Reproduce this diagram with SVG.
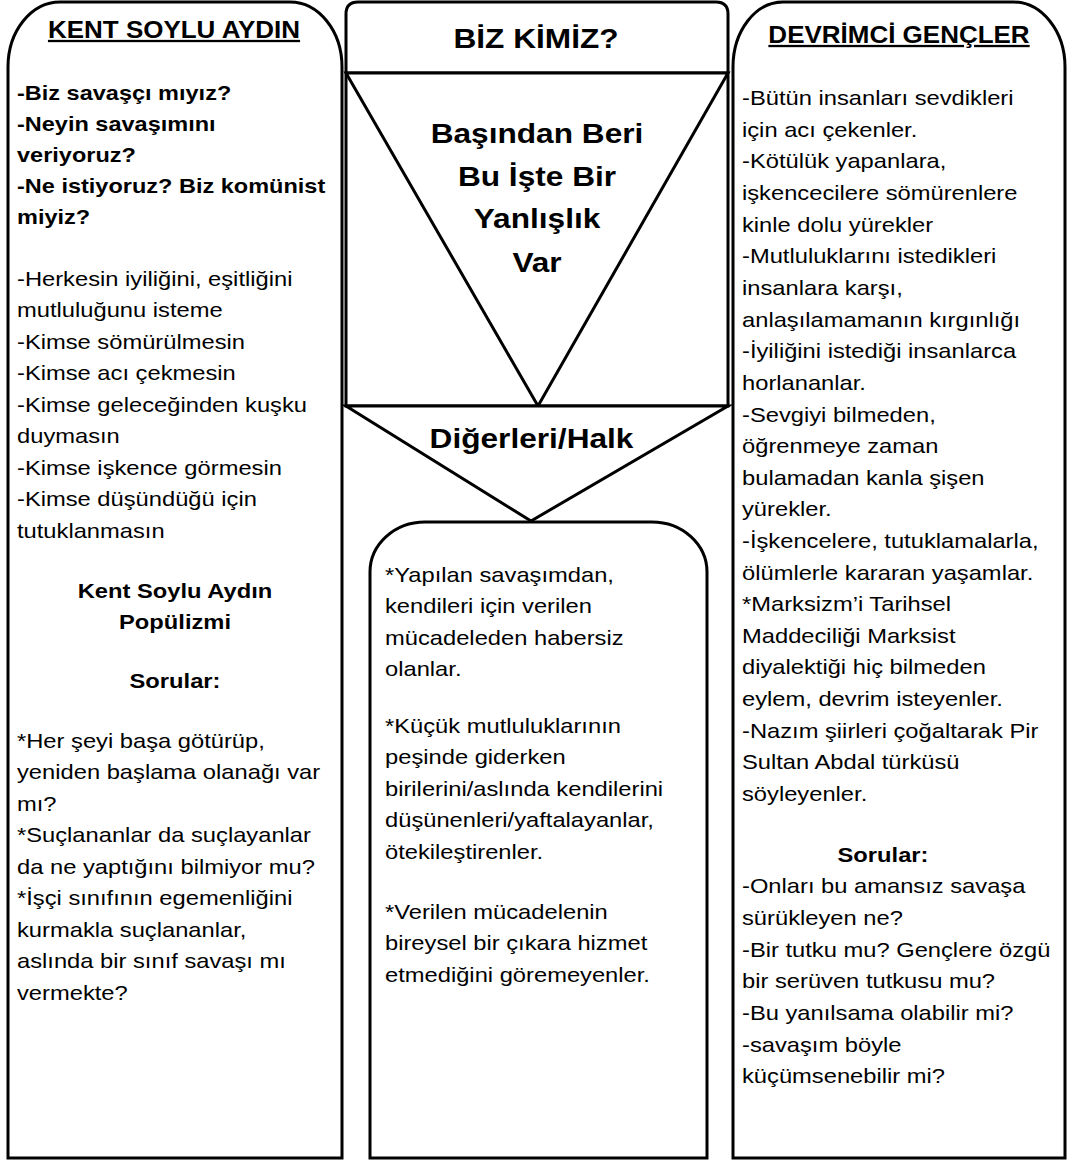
<svg xmlns="http://www.w3.org/2000/svg" width="1070" height="1162" viewBox="0 0 1070 1162">
  <style>
    .box { fill: #fff; stroke: #000; stroke-width: 3; stroke-linejoin: miter; }
    .ln { fill: none; stroke: #000; stroke-width: 3; }
    text { font-family: "Liberation Sans", Arial, "DejaVu Sans", sans-serif; fill: #000; font-size: 21px; }
    .b { font-weight: bold; }
    .h { font-weight: bold; font-size: 23px; text-decoration: underline; }
    .big { font-weight: bold; font-size: 28px; }
    .mid { text-anchor: middle; }
  </style>
  <rect width="1070" height="1162" fill="#fff"/>

  <!-- left column -->
  <g id="kent-soylu-aydin">
    <path class="box" d="M8 1158 L8 67 A52 65 0 0 1 60 2 L290 2 A52 65 0 0 1 342 67 L342 1158 Z"/>
    <g transform="translate(174 0) scale(1.13 1)">
      <text class="h mid" x="0" y="38">KENT SOYLU AYDIN</text>
    </g>
    <g transform="translate(17 0) scale(1.12 1)">
      <text class="b" x="0" y="100">-Biz savaşçı mıyız?</text>
      <text class="b" x="0" y="131">-Neyin savaşımını</text>
      <text class="b" x="0" y="162">veriyoruz?</text>
      <text class="b" x="0" y="193">-Ne istiyoruz? Biz komünist</text>
      <text class="b" x="0" y="224">miyiz?</text>
    </g>
    <g transform="translate(17 0) scale(1.13 1)">
      <text x="0" y="286">-Herkesin iyiliğini, eşitliğini</text>
      <text x="0" y="317.5">mutluluğunu isteme</text>
      <text x="0" y="349">-Kimse sömürülmesin</text>
      <text x="0" y="380.5">-Kimse acı çekmesin</text>
      <text x="0" y="412">-Kimse geleceğinden kuşku</text>
      <text x="0" y="443.5">duymasın</text>
      <text x="0" y="475">-Kimse işkence görmesin</text>
      <text x="0" y="506.5">-Kimse düşündüğü için</text>
      <text x="0" y="538">tutuklanmasın</text>
    </g>
    <g transform="translate(175 0) scale(1.13 1)">
      <text class="b mid" x="0" y="598">Kent Soylu Aydın</text>
      <text class="b mid" x="0" y="629">Popülizmi</text>
      <text class="b mid" x="0" y="688">Sorular:</text>
    </g>
    <g transform="translate(17 0) scale(1.13 1)">
      <text x="0" y="748">*Her şeyi başa götürüp,</text>
      <text x="0" y="779.5">yeniden başlama olanağı var</text>
      <text x="0" y="811">mı?</text>
      <text x="0" y="842.5">*Suçlananlar da suçlayanlar</text>
      <text x="0" y="874">da ne yaptığını bilmiyor mu?</text>
      <text x="0" y="905.5">*İşçi sınıfının egemenliğini</text>
      <text x="0" y="937">kurmakla suçlananlar,</text>
      <text x="0" y="968.5">aslında bir sınıf savaşı mı</text>
      <text x="0" y="1000">vermekte?</text>
    </g>
  </g>

  <!-- centre header with the downward triangle -->
  <g id="biz-kimiz">
    <path class="box" d="M346 406 L346 14 Q346 2 358 2 L716 2 Q728 2 728 14 L728 406 Z"/>
    <path class="ln" d="M346 73 H728"/>
    <g transform="translate(536 0) scale(1.13 1)">
      <text class="big mid" x="0" y="48">BİZ KİMİZ?</text>
    </g>
  </g>

  <g id="yanlislik">
    <path class="box" d="M346 73 L538 406 L728 73 Z"/>
    <g transform="translate(537 0) scale(1.13 1)">
      <text class="big mid" x="0" y="143">Başından Beri</text>
      <text class="big mid" x="0" y="186">Bu İşte Bir</text>
      <text class="big mid" x="0" y="228">Yanlışlık</text>
      <text class="big mid" x="0" y="272">Var</text>
    </g>
  </g>

  <g id="digerleri-halk">
    <path class="box" d="M346 406 L728 406 L531 521 Z"/>
    <g transform="translate(531.5 0) scale(1.13 1)">
      <text class="big mid" x="0" y="448">Diğerleri/Halk</text>
    </g>
  </g>

  <!-- centre lower box -->
  <g id="halk-aciklama">
    <path class="box" d="M370 1158 L370 572 A55 50 0 0 1 425 522 L652 522 A55 50 0 0 1 707 572 L707 1158 Z"/>
    <g transform="translate(385 0) scale(1.13 1)">
      <text x="0" y="582">*Yapılan savaşımdan,</text>
      <text x="0" y="613.5">kendileri için verilen</text>
      <text x="0" y="645">mücadeleden habersiz</text>
      <text x="0" y="676.5">olanlar.</text>
      <text x="0" y="733">*Küçük mutluluklarının</text>
      <text x="0" y="764.5">peşinde giderken</text>
      <text x="0" y="796">birilerini/aslında kendilerini</text>
      <text x="0" y="827.5">düşünenleri/yaftalayanlar,</text>
      <text x="0" y="859">ötekileştirenler.</text>
      <text x="0" y="919">*Verilen mücadelenin</text>
      <text x="0" y="950.5">bireysel bir çıkara hizmet</text>
      <text x="0" y="982">etmediğini göremeyenler.</text>
    </g>
  </g>

  <!-- right column -->
  <g id="devrimci-gencler">
    <path class="box" d="M733 1158 L733 67 A50 65 0 0 1 783 2 L1013 2 A52 65 0 0 1 1065 67 L1065 1158 Z"/>
    <g transform="translate(899 0) scale(1.13 1)">
      <text class="h mid" x="0" y="43">DEVRİMCİ GENÇLER</text>
    </g>
    <g transform="translate(742 0) scale(1.13 1)">
      <text x="0" y="105">-Bütün insanları sevdikleri</text>
      <text x="0" y="137">için acı çekenler.</text>
      <text x="0" y="168">-Kötülük yapanlara,</text>
      <text x="0" y="200">işkencecilere sömürenlere</text>
      <text x="0" y="232">kinle dolu yürekler</text>
      <text x="0" y="263">-Mutluluklarını istedikleri</text>
      <text x="0" y="295">insanlara karşı,</text>
      <text x="0" y="327">anlaşılamamanın kırgınlığı</text>
      <text x="0" y="358">-İyiliğini istediği insanlarca</text>
      <text x="0" y="390">horlananlar.</text>
      <text x="0" y="422">-Sevgiyi bilmeden,</text>
      <text x="0" y="453">öğrenmeye zaman</text>
      <text x="0" y="485">bulamadan kanla şişen</text>
      <text x="0" y="516.5">yürekler.</text>
      <text x="0" y="548">-İşkencelere, tutuklamalarla,</text>
      <text x="0" y="580">ölümlerle kararan yaşamlar.</text>
      <text x="0" y="611">*Marksizm’i Tarihsel</text>
      <text x="0" y="643">Maddeciliği Marksist</text>
      <text x="0" y="674">diyalektiği hiç bilmeden</text>
      <text x="0" y="706">eylem, devrim isteyenler.</text>
      <text x="0" y="738">-Nazım şiirleri çoğaltarak Pir</text>
      <text x="0" y="769">Sultan Abdal türküsü</text>
      <text x="0" y="801">söyleyenler.</text>
    </g>
    <g transform="translate(883 0) scale(1.13 1)">
      <text class="b mid" x="0" y="862">Sorular:</text>
    </g>
    <g transform="translate(742 0) scale(1.13 1)">
      <text x="0" y="893">-Onları bu amansız savaşa</text>
      <text x="0" y="925">sürükleyen ne?</text>
      <text x="0" y="957">-Bir tutku mu? Gençlere özgü</text>
      <text x="0" y="988">bir serüven tutkusu mu?</text>
      <text x="0" y="1020">-Bu yanılsama olabilir mi?</text>
      <text x="0" y="1052">-savaşım böyle</text>
      <text x="0" y="1083">küçümsenebilir mi?</text>
    </g>
  </g>

  <!-- no connectors: the panels touch directly -->
  <g id="connectors"></g>
</svg>
